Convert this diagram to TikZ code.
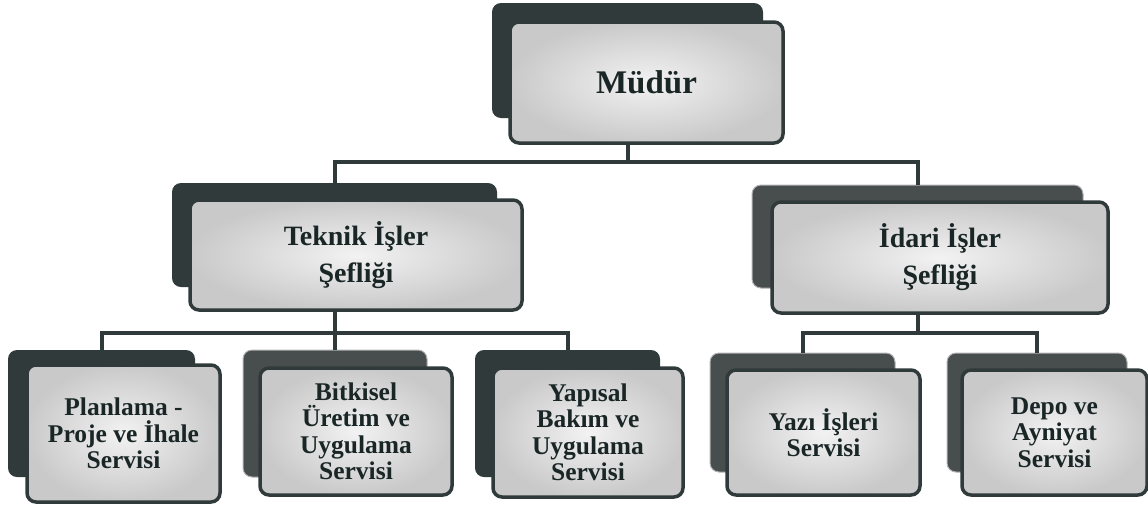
\documentclass[tikz,border=0pt]{standalone}
\usepackage{fontspec}
\setmainfont{Liberation Serif}
\definecolor{slate}{RGB}{48,58,58}
\definecolor{slatelight}{RGB}{72,78,78}
\definecolor{inktext}{RGB}{26,38,38}
\tikzset{
    unit/.style={draw=slate, line width=3.5pt, rounded corners=9pt,
        inner color=gray!10, outer color=gray!42, text=inktext,
        font=\bfseries, align=center, inner sep=0pt},
    back/.style={fill=slate, rounded corners=9pt, inner sep=0pt},
    backlight/.style={fill=slatelight, draw=gray!60, line width=1pt,
        rounded corners=9pt, inner sep=0pt},
    link/.style={draw=slate, line width=4pt},
    top/.style={font=\bfseries\fontsize{33}{36}\selectfont},
    mid/.style={font=\bfseries\fontsize{28}{37}\selectfont},
    low/.style={font=\bfseries\fontsize{25.5}{26.5}\selectfont}
}

\begin{document}
\begin{tikzpicture}[x=1pt, y=-1pt]
    \useasboundingbox (0,0) rectangle (1148,507);
    % shadow boxes
    \node[back, minimum width=271pt, minimum height=115pt] (mudur-sh) at (627.5,60.5) {};
    \node[back, minimum width=325pt, minimum height=104pt] (teknik-sh) at (334.5,235) {};
    \node[backlight, minimum width=331pt, minimum height=103pt] (idari-sh) at (917.5,236.5) {};
    \node[back, minimum width=187pt, minimum height=127pt] (plan-sh) at (101.5,413.5) {};
    \node[backlight, minimum width=184pt, minimum height=127pt] (bitki-sh) at (335,413.5) {};
    \node[back, minimum width=185pt, minimum height=127pt] (yapi-sh) at (567.5,413.5) {};
    \node[backlight, minimum width=185pt, minimum height=119pt] (yazi-sh) at (802.5,412.5) {};
    \node[backlight, minimum width=180pt, minimum height=119pt] (depo-sh) at (1037,412.5) {};
    % front boxes
    \node[unit, top, minimum width=273pt, minimum height=121pt] (mudur) at (646.5,82.5) {Müdür};
    \node[unit, mid, minimum width=332pt, minimum height=110pt] (teknik) at (356,255) {Teknik İşler\\Şefliği};
    \node[unit, mid, minimum width=336pt, minimum height=111pt] (idari) at (940,257.5) {İdari İşler\\Şefliği};
    \node[unit, low, minimum width=193pt, minimum height=137pt] (plan) at (123.5,433.5) {Planlama -\\Proje ve İhale\\Servisi};
    \node[unit, low, minimum width=192pt, minimum height=127pt] (bitki) at (356,431.5) {Bitkisel\\Üretim ve\\Uygulama\\Servisi};
    \node[unit, low, minimum width=190pt, minimum height=129pt] (yapi) at (588,432.5) {Yapısal\\Bakım ve\\Uygulama\\Servisi};
    \node[unit, low, minimum width=193pt, minimum height=125pt] (yazi) at (823.5,432.5) {Yazı İşleri\\Servisi};
    \node[unit, low, minimum width=185pt, minimum height=125pt] (depo) at (1054.5,432.5) {Depo ve\\Ayniyat\\Servisi};
    % connectors
    \foreach \c in {teknik-sh, idari-sh}
        \draw[link] (mudur-sh.south |- mudur.south) -- ++(0,17) -| (\c.north);
    \foreach \c in {plan-sh, bitki-sh, yapi-sh}
        \draw[link] (teknik-sh.south |- teknik.south) -- ++(0,21) -| (\c.north);
    \foreach \c in {yazi-sh, depo-sh}
        \draw[link] (idari-sh.south |- idari.south) -- ++(0,18) -| (\c.north);
\end{tikzpicture}
\end{document}
